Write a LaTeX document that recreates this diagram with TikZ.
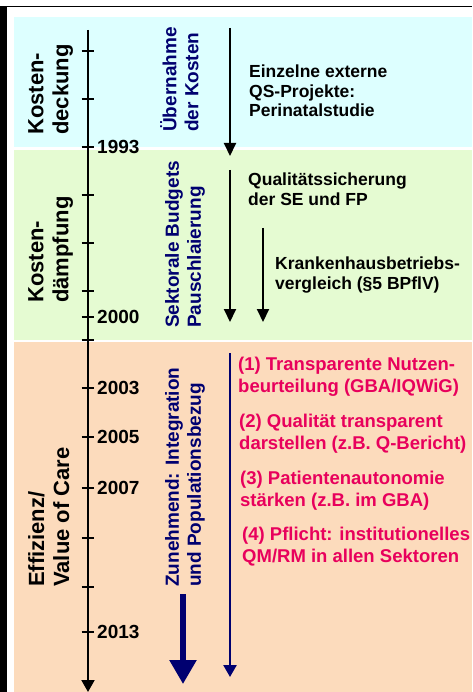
\documentclass[tikz,border=0pt]{standalone}
\usepackage{fontspec}
\setmainfont{Liberation Sans}
\usetikzlibrary{arrows.meta}
\definecolor{bgcyan}{RGB}{221,255,255}
\definecolor{bggreen}{RGB}{229,251,210}
\definecolor{bgpeach}{RGB}{252,219,188}
\definecolor{navyblue}{RGB}{0,0,112}
\definecolor{crimson}{RGB}{232,0,92}
\begin{document}
\begin{tikzpicture}[x=1pt,y=-1pt,
  txt/.style={inner sep=0pt,anchor=north west,align=left,font=\bfseries\fontsize{17.5}{19.5}\selectfont},
  redtxt/.style={txt,text=crimson,font=\bfseries\fontsize{18.5}{21.5}\selectfont},
  era/.style={inner sep=0pt,anchor=north west,align=left,rotate=90,font=\bfseries\fontsize{22}{25}\selectfont},
  phase/.style={inner sep=0pt,anchor=north west,align=left,rotate=90,text=navyblue,font=\bfseries\fontsize{19}{22}\selectfont},
  year/.style={inner sep=0pt,anchor=west,font=\bfseries\fontsize{19}{22}\selectfont},
  tick/.style={line width=2pt},
  blackarrow/.style={line width=2pt,-{Triangle[width=12pt,length=13pt]}},
  navyarrow/.style={navyblue,line width=2.5pt,-{Triangle[width=13pt,length=12pt]}},
  fatarrow/.style={navyblue,line width=5.5pt,-{Triangle[width=26pt,length=24pt]}}
]
\useasboundingbox (0,0) rectangle (472,692);
% backgrounds
\fill[bgcyan] (14,17) rectangle (472,147);
\fill[bggreen] (14,150.5) rectangle (472,340);
\fill[bgpeach] (14,342) rectangle (472,692);
% frame
\fill[black] (0,6) rectangle (7,692);
\draw[line width=1.3pt] (0,6.5) -- (472,6.5);
% axis
\coordinate (axtop) at (88,30);
\coordinate (axbot) at (88,692);
\draw[line width=2pt,-{Triangle[width=13pt,length=12pt]}] (axtop) -- (axbot);
\foreach \y in {51,99,147,195,243,291,317,340,388,437,488,538,587,632}
  \draw[tick] (81.5,\y) -- (94,\y);
% years
\node[year] (y1993) at (97,147) {1993};
\node[year] (y2000) at (97,317) {2000};
\node[year] (y2003) at (97,388) {2003};
\node[year] (y2005) at (97,437) {2005};
\node[year] (y2007) at (97,488) {2007};
\node[year] (y2013) at (97,632) {2013};
% era labels
\node[era] (era1) at (28,135) {Kosten-\\deckung};
\node[era] (era2) at (28,303) {Kosten-\\dämpfung};
\node[era] (era3) at (28,587) {Effizienz/\\Value of Care};
% phase labels
\node[phase] (ph1) at (160,132) {Übernahme\\der Kosten};
\node[phase] (ph2) at (165,328) {Sektorale Budgets\\Pauschlaierung};
\node[phase] (ph3) at (165,587) {Zunehmend: Integration\\und Populationsbezug};
% arrows
\coordinate (a1s) at (230,28);   \coordinate (a1e) at (230,156);
\coordinate (a2s) at (230,170);  \coordinate (a2e) at (230,322);
\coordinate (a3s) at (263,228);  \coordinate (a3e) at (263,322);
\coordinate (a4s) at (230,353);  \coordinate (a4e) at (230,677);
\coordinate (a5s) at (183,594);  \coordinate (a5e) at (183,684);
\draw[blackarrow] (a1s) -- (a1e);
\draw[blackarrow] (a2s) -- (a2e);
\draw[blackarrow] (a3s) -- (a3e);
\draw[navyarrow] (a4s) -- (a4e);
\draw[fatarrow] (a5s) -- (a5e);
% black texts
\node[txt] (t1) at (249,65) {Einzelne externe\\QS-Projekte:\\Perinatalstudie};
\node[txt] (t2) at (248,173) {Qualitätssicherung\\der SE und FP};
\node[txt] (t3) at (275,257) {Krankenhausbetriebs-\\vergleich (§5 BPflV)};
% red texts
\node[redtxt] (r1) at (238,357) {(1) Transparente Nutzen-\\beurteilung (GBA/IQWiG)};
\node[redtxt] (r2) at (239,414) {(2) Qualität transparent\\darstellen (z.B. Q-Bericht)};
\node[redtxt] (r3) at (240,471) {(3) Patientenautonomie\\stärken (z.B. im GBA)};
\node[redtxt] (r4) at (242,527) {(4) Pflicht: institutionelles\\QM/RM in allen Sektoren};
\end{tikzpicture}
\end{document}
